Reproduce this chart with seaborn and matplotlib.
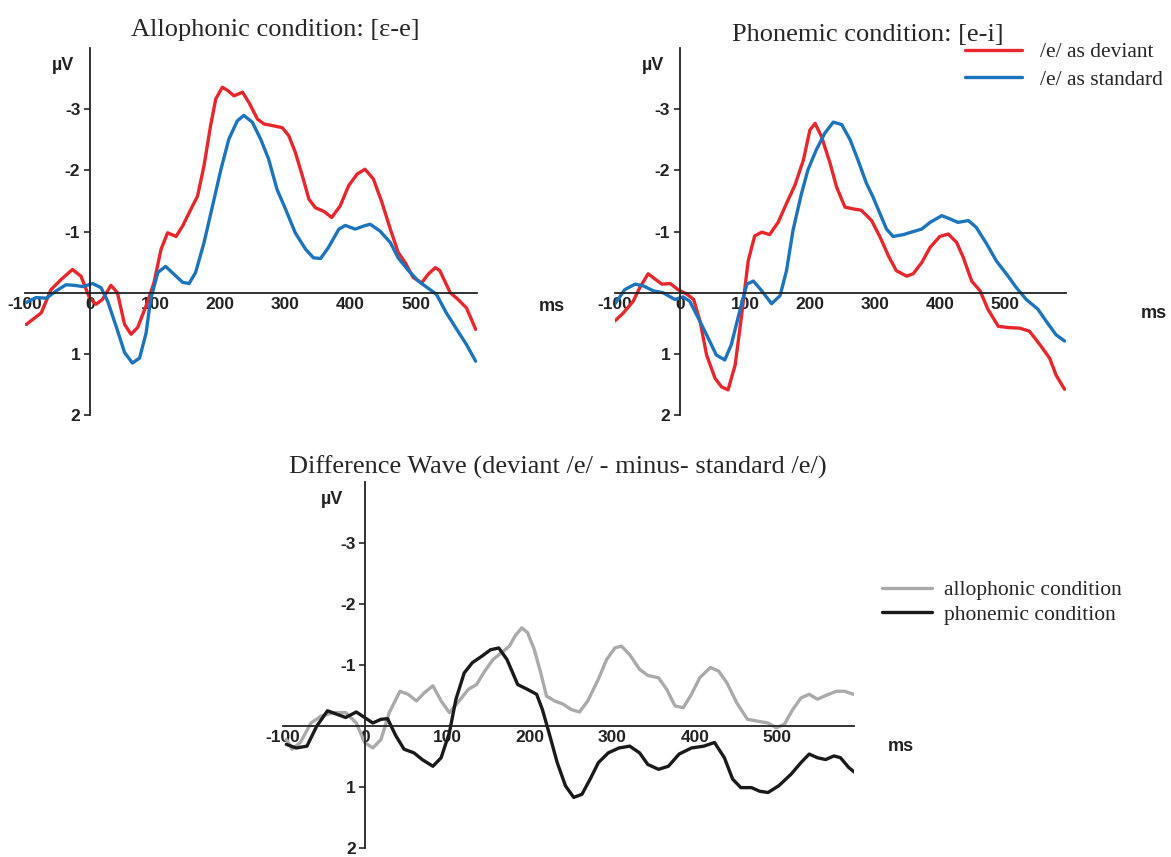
import pandas as pd
import matplotlib
matplotlib.use('Agg')
import matplotlib.pyplot as plt
import seaborn as sns

# ---- data (ms, microvolts; negative is plotted upwards) ----
allo_dev_ms = [-98, -75, -60, -44, -27, -14, -1, 9, 19, 32, 42, 53, 63, 73, 88, 98, 109, 119, 132, 142,
               155, 165, 175, 185, 193, 203, 211, 221, 234, 244, 257, 267, 277, 295, 305, 315, 326, 336,
               346, 359, 371, 384, 397, 410, 422, 435, 448, 461, 473, 484, 496, 509, 519, 530, 537, 553,
               565, 578, 592]
allo_dev_uv = [0.52, 0.33, -0.05, -0.22, -0.38, -0.27, 0.08, 0.19, 0.11, -0.12, 0, 0.52, 0.68, 0.57, 0.16,
               -0.16, -0.71, -0.98, -0.92, -1.09, -1.37, -1.58, -2.08, -2.73, -3.17, -3.36, -3.31, -3.22,
               -3.28, -3.11, -2.84, -2.76, -2.74, -2.70, -2.57, -2.30, -1.91, -1.53, -1.39, -1.33, -1.23,
               -1.42, -1.75, -1.94, -2.02, -1.86, -1.48, -1.04, -0.66, -0.49, -0.25, -0.16, -0.30, -0.41,
               -0.36, 0, 0.11, 0.25, 0.60]

allo_std_ms = [-98, -83, -67, -52, -37, -24, -11, 4, 17, 27, 40, 53, 65, 76, 86, 93, 104, 116, 129, 142,
               152, 162, 175, 188, 201, 213, 226, 236, 249, 262, 274, 287, 300, 315, 331, 343, 354, 366,
               382, 392, 407, 420, 430, 445, 461, 473, 489, 504, 522, 532, 547, 563, 578, 592]
allo_std_uv = [0.16, 0.08, 0.09, -0.03, -0.13, -0.12, -0.10, -0.15, -0.08, 0.14, 0.55, 0.98, 1.15, 1.07,
               0.66, 0.11, -0.33, -0.43, -0.30, -0.17, -0.15, -0.33, -0.82, -1.42, -2.02, -2.51, -2.81,
               -2.90, -2.79, -2.51, -2.19, -1.69, -1.37, -0.98, -0.71, -0.57, -0.56, -0.74, -1.04, -1.10,
               -1.04, -1.09, -1.12, -1.01, -0.82, -0.57, -0.36, -0.19, -0.05, 0.03, 0.33, 0.60, 0.85, 1.12]

phon_dev_ms = [-100, -87, -72, -62, -49, -38, -28, -15, -3, 10, 21, 31, 41, 54, 64, 74, 85, 95, 105, 115,
               126, 138, 151, 164, 177, 190, 200, 208, 218, 231, 241, 254, 267, 279, 295, 308, 321, 333,
               349, 359, 372, 385, 400, 413, 426, 436, 449, 462, 474, 490, 505, 523, 538, 554, 569, 579, 592]
phon_dev_uv = [0.46, 0.33, 0.14, -0.08, -0.31, -0.22, -0.14, -0.15, -0.05, 0.02, 0.11, 0.47, 1.02, 1.40,
               1.54, 1.59, 1.18, 0.36, -0.52, -0.93, -0.99, -0.95, -1.15, -1.46, -1.76, -2.17, -2.66,
               -2.77, -2.55, -2.12, -1.73, -1.40, -1.37, -1.35, -1.18, -0.91, -0.60, -0.36, -0.27, -0.31,
               -0.49, -0.74, -0.92, -0.96, -0.82, -0.58, -0.19, -0.03, 0.27, 0.55, 0.57, 0.58, 0.63, 0.85,
               1.07, 1.35, 1.58]

phon_std_ms = [-100, -85, -69, -56, -41, -26, -8, 5, 15, 28, 41, 56, 69, 79, 92, 103, 113, 126, 141, 154,
               164, 174, 187, 197, 210, 223, 236, 249, 262, 274, 287, 297, 308, 318, 328, 344, 356, 372,
               385, 403, 415, 428, 444, 456, 472, 487, 503, 518, 533, 551, 564, 579, 592]
phon_std_uv = [0.18, -0.05, -0.14, -0.11, -0.03, 0, 0.11, 0.07, 0.14, 0.41, 0.69, 1.02, 1.10, 0.85, 0.30,
               -0.14, -0.19, -0.03, 0.18, 0.05, -0.36, -1.02, -1.62, -2.01, -2.34, -2.61, -2.79, -2.75,
               -2.50, -2.17, -1.79, -1.57, -1.29, -1.04, -0.92, -0.95, -0.99, -1.04, -1.15, -1.26, -1.21,
               -1.15, -1.18, -1.07, -0.80, -0.52, -0.30, -0.08, 0.11, 0.27, 0.47, 0.69, 0.79]

diff_allo_ms = [-96, -89, -79, -66, -54, -39, -24, -11, -1, 9, 19, 29, 42, 52, 62, 72, 82, 92, 102, 112,
                125, 135, 145, 155, 165, 175, 182, 190, 197, 205, 213, 220, 230, 240, 250, 260, 270, 283,
                293, 303, 311, 321, 333, 343, 356, 366, 376, 386, 396, 406, 419, 429, 439, 451, 464, 476,
                489, 499, 509, 519, 529, 539, 549, 559, 572, 582, 597]
diff_allo_uv = [0.22, 0.38, 0.27, -0.05, -0.16, -0.22, -0.22, -0.05, 0.27, 0.36, 0.22, -0.22, -0.57, -0.52,
                -0.41, -0.55, -0.66, -0.41, -0.22, -0.38, -0.60, -0.68, -0.90, -1.09, -1.20, -1.31, -1.48,
                -1.61, -1.53, -1.26, -0.87, -0.49, -0.41, -0.36, -0.27, -0.23, -0.41, -0.77, -1.09, -1.28,
                -1.31, -1.17, -0.93, -0.83, -0.79, -0.60, -0.33, -0.30, -0.52, -0.79, -0.96, -0.90, -0.71,
                -0.38, -0.11, -0.08, -0.05, 0.03, -0.03, -0.27, -0.46, -0.52, -0.44, -0.50, -0.57, -0.57,
                -0.50]

diff_phon_ms = [-96, -84, -71, -59, -46, -34, -24, -11, -1, 9, 19, 27, 37, 47, 59, 69, 82, 92, 102, 110,
                120, 130, 142, 152, 162, 172, 185, 197, 208, 215, 223, 233, 243, 253, 263, 273, 283, 295,
                308, 321, 333, 343, 356, 368, 381, 396, 411, 424, 436, 446, 456, 469, 479, 489, 502, 517,
                529, 539, 549, 559, 569, 577, 587, 597]
diff_phon_uv = [0.30, 0.36, 0.33, 0, -0.25, -0.19, -0.14, -0.23, -0.14, -0.05, -0.11, -0.12, 0.16, 0.38,
                0.44, 0.55, 0.66, 0.52, 0.11, -0.44, -0.87, -1.04, -1.15, -1.25, -1.28, -1.09, -0.68,
                -0.60, -0.52, -0.27, 0.11, 0.60, 0.98, 1.17, 1.12, 0.87, 0.60, 0.44, 0.36, 0.33, 0.44,
                0.63, 0.71, 0.66, 0.46, 0.36, 0.33, 0.27, 0.52, 0.87, 1.01, 1.01, 1.07, 1.09, 0.98, 0.79,
                0.60, 0.46, 0.52, 0.55, 0.49, 0.52, 0.68, 0.79]

x_ticks = [-100, 0, 100, 200, 300, 400, 500]
y_ticks = [-3, -2, -1, 1, 2]

RED = '#e8262b'
BLUE = '#1c75bc'
GRAY = '#aaaaaa'
BLACK = '#1a1a1a'

sns.set_style('ticks')
plt.rcParams['font.family'] = ['Liberation Sans', 'DejaVu Sans']
plt.rcParams['axes.unicode_minus'] = False
SERIF = ['Liberation Serif', 'DejaVu Serif']

fig = plt.figure(figsize=(11.71, 8.57), dpi=100)
ax1 = fig.add_axes([0.0213, 0.5158, 0.386, 0.428])
ax2 = fig.add_axes([0.5252, 0.5158, 0.385, 0.428])
ax3 = fig.add_axes([0.2417, 0.0105, 0.488, 0.427])


def erp_axes(ax, ms_xy, uv_xy):
    ax.set_xlim(-100, 594)
    ax.set_ylim(2, -4)  # negative up
    for s in ['top', 'right']:
        ax.spines[s].set_visible(False)
    ax.spines['left'].set_position(('data', 0))
    ax.spines['bottom'].set_position(('data', 0))
    ax.spines['left'].set_bounds(2, -4)
    for s in ['left', 'bottom']:
        ax.spines[s].set_linewidth(1.3)
        ax.spines[s].set_color('#222222')
    ax.set_xticks(x_ticks)
    ax.set_yticks(y_ticks)
    ax.set_xticklabels([str(t) for t in x_ticks])
    ax.set_yticklabels([str(t) for t in y_ticks])
    ax.tick_params(axis='x', length=0, pad=3, labelsize=12.5)
    ax.tick_params(axis='y', length=4, width=1.2, direction='out', pad=3, labelsize=12.5)
    for lab in ax.get_xticklabels() + ax.get_yticklabels():
        lab.set_fontweight('bold')
        lab.set_color('#222222')
    ax.set_xlabel('')
    ax.set_ylabel('')
    ax.text(-41, -3.72, 'µV', ha='center', va='center', fontsize=13, fontweight='bold',
            color='#222222', clip_on=False)
    ax.text(ms_xy, uv_xy, 'ms', ha='center', va='center', fontsize=13, fontweight='bold',
            color='#222222', clip_on=False)
    if ax.get_legend():
        ax.get_legend().remove()


lw = 2.4
sns.lineplot(x=allo_dev_ms, y=allo_dev_uv, ax=ax1, color=RED, lw=lw, label='/e/ as deviant')
sns.lineplot(x=allo_std_ms, y=allo_std_uv, ax=ax1, color=BLUE, lw=lw, label='/e/ as standard')
erp_axes(ax1, 709, 0.23)
ax1.set_title('Allophonic condition: [ɛ-e]', family=SERIF, fontsize=19, pad=9, x=0.553)

sns.lineplot(x=phon_dev_ms, y=phon_dev_uv, ax=ax2, color=RED, lw=lw, label='/e/ as deviant')
sns.lineplot(x=phon_std_ms, y=phon_std_uv, ax=ax2, color=BLUE, lw=lw, label='/e/ as standard')
handles, labels = ax2.get_legend_handles_labels()
erp_axes(ax2, 729, 0.34)
ax2.set_title('Phonemic condition: [e-i]', family=SERIF, fontsize=19, pad=5, x=0.561)
fig.legend(handles, labels, loc='upper left', bbox_to_anchor=(0.824, 0.951), frameon=False,
           prop={'family': SERIF, 'size': 15.5}, handlelength=2.65, handletextpad=0.84,
           borderpad=0, borderaxespad=0, labelspacing=0.35)

sns.lineplot(x=diff_allo_ms, y=diff_allo_uv, ax=ax3, color=GRAY, lw=lw, label='allophonic condition')
sns.lineplot(x=diff_phon_ms, y=diff_phon_uv, ax=ax3, color=BLACK, lw=lw, label='phonemic condition')
handles3, labels3 = ax3.get_legend_handles_labels()
erp_axes(ax3, 650, 0.34)
ax3.set_title('Difference Wave (deviant /e/ - minus- standard /e/)', family=SERIF, fontsize=19,
              pad=6, x=0.48)
fig.legend(handles3, labels3, loc='upper left', bbox_to_anchor=(0.753, 0.3232), frameon=False,
           prop={'family': SERIF, 'size': 15.5}, handlelength=2.33, handletextpad=0.56,
           borderpad=0, borderaxespad=0, labelspacing=0.21)

fig.savefig('out.png', dpi=100)
